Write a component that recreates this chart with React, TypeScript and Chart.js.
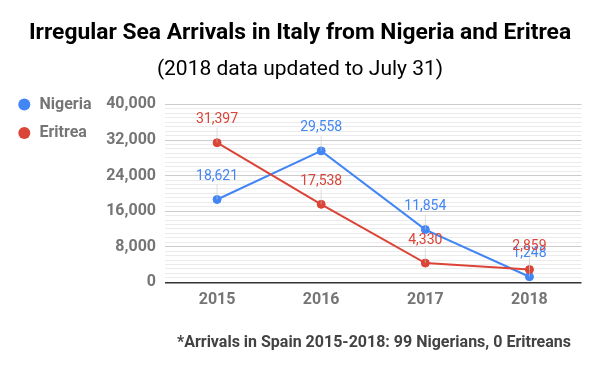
import React, { useEffect, useRef } from "react";
import { Chart, registerables } from "chart.js";

Chart.register(...registerables);

const years = ["2015", "2016", "2017", "2018"];
const nigeria = [18621, 29558, 11854, 1248];
const eritrea = [31397, 17538, 4330, 2859];
const seriesNames = ["Nigeria", "Eritrea"];
const seriesColors = ["#4285F4", "#DB4437"];
const yMax = 40000;
const yMajorStep = 8000;
const yMinorStep = 1000;
const titleText = "Irregular Sea Arrivals in Italy from Nigeria and Eritrea";
const subtitleText = "(2018 data updated to July 31)";
const footnoteText = "*Arrivals in Spain 2015-2018: 99 Nigerians, 0 Eritreans";

const FONT = "Roboto, 'Noto Sans', Arial, sans-serif";

const extrasPlugin = {
  id: "extras",
  afterDatasetsDraw(chart: any) {
    const ctx = chart.ctx;
    ctx.save();
    chart.data.datasets.forEach((ds: any, di: number) => {
      const meta = chart.getDatasetMeta(di);
      meta.data.forEach((pt: any, i: number) => {
        const v = ds.data[i];
        const ly = pt.y - 23;
        ctx.strokeStyle = "rgba(200,200,200,0.6)";
        ctx.lineWidth = 1;
        ctx.beginPath();
        ctx.moveTo(pt.x, ly + 8);
        ctx.lineTo(pt.x, pt.y);
        ctx.stroke();
        ctx.font = `14px ${FONT}`;
        ctx.fillStyle = ds.borderColor;
        ctx.textAlign = "center";
        ctx.textBaseline = "middle";
        ctx.fillText(v.toLocaleString("en-US"), pt.x, ly);
      });
    });
    ctx.restore();
  },
  afterDraw(chart: any) {
    const ctx = chart.ctx;
    ctx.save();
    seriesNames.forEach((name, i) => {
      const y = 104.5 + i * 28.5;
      ctx.fillStyle = seriesColors[i];
      ctx.beginPath();
      ctx.arc(24.3, y, 6, 0, Math.PI * 2);
      ctx.fill();
      ctx.fillStyle = "#757575";
      ctx.font = `bold 16px ${FONT}`;
      ctx.textAlign = "left";
      ctx.textBaseline = "middle";
      ctx.fillText(name, 39.5, y);
    });
    ctx.fillStyle = "#424242";
    ctx.font = `bold 16px ${FONT}`;
    ctx.textAlign = "right";
    ctx.textBaseline = "middle";
    ctx.fillText(footnoteText, 571, 342.5);
    ctx.restore();
  },
};

export default function App() {
  const ref = useRef<HTMLCanvasElement>(null);
  useEffect(() => {
    if (!ref.current) return;
    const chart = new Chart(ref.current, {
      type: "line",
      data: {
        labels: years,
        datasets: [
          {
            label: seriesNames[0],
            data: nigeria,
            borderColor: seriesColors[0],
            backgroundColor: seriesColors[0],
            borderWidth: 2,
            pointRadius: 4,
            pointBorderWidth: 1,
            tension: 0,
            order: 2,
          },
          {
            label: seriesNames[1],
            data: eritrea,
            borderColor: seriesColors[1],
            backgroundColor: seriesColors[1],
            borderWidth: 2,
            pointRadius: 4,
            pointBorderWidth: 1,
            tension: 0,
            order: 1,
          },
        ],
      },
      options: {
        responsive: false,
        animation: false,
        layout: { padding: { left: 18.5, right: 18.5, top: 0, bottom: 58.7 } },
        plugins: {
          legend: { display: false },
          tooltip: { enabled: false },
          title: {
            display: true,
            text: titleText,
            color: "#000",
            font: { family: FONT, size: 22.8, weight: "bold" },
            padding: { top: 19.8, bottom: 0 },
          },
          subtitle: {
            display: true,
            text: subtitleText,
            color: "#000",
            font: { family: FONT, size: 21, weight: "normal" },
            padding: { top: 9.7, bottom: 22.4 },
          },
        },
        scales: {
          x: {
            type: "category",
            offset: true,
            grid: { display: false, drawTicks: false },
            border: { display: false },
            ticks: {
              color: "#757575",
              font: { family: FONT, size: 16, weight: "bold" },
              padding: 7.6,
            },
            afterFit(scale: any) {
              scale.height = 30;
            },
          },
          y: {
            min: 0,
            max: yMax,
            border: { display: false },
            grid: {
              drawTicks: false,
              color: (c: any) =>
                c.tick.value === 0
                  ? "#333333"
                  : c.tick.value % yMajorStep === 0
                  ? "#cccccc"
                  : "#ebebeb",
              lineWidth: (c: any) => (c.tick.value === 0 ? 1.5 : 1),
            },
            ticks: {
              stepSize: yMinorStep,
              autoSkip: false,
              color: "#757575",
              font: { family: FONT, size: 16, weight: "bold" },
              padding: 9,
              callback: (v: any) =>
                Number(v) % yMajorStep === 0 ? Number(v).toLocaleString("en-US") : "",
            },
            afterFit(scale: any) {
              scale.width = 146.5;
            },
          },
        },
      },
      plugins: [extrasPlugin],
    });
    return () => chart.destroy();
  }, []);
  return (
    <div style={{ position: "fixed", left: 0, top: 0, width: 600, height: 371, background: "#fff" }}>
      <canvas ref={ref} width={600} height={371} />
    </div>
  );
}
